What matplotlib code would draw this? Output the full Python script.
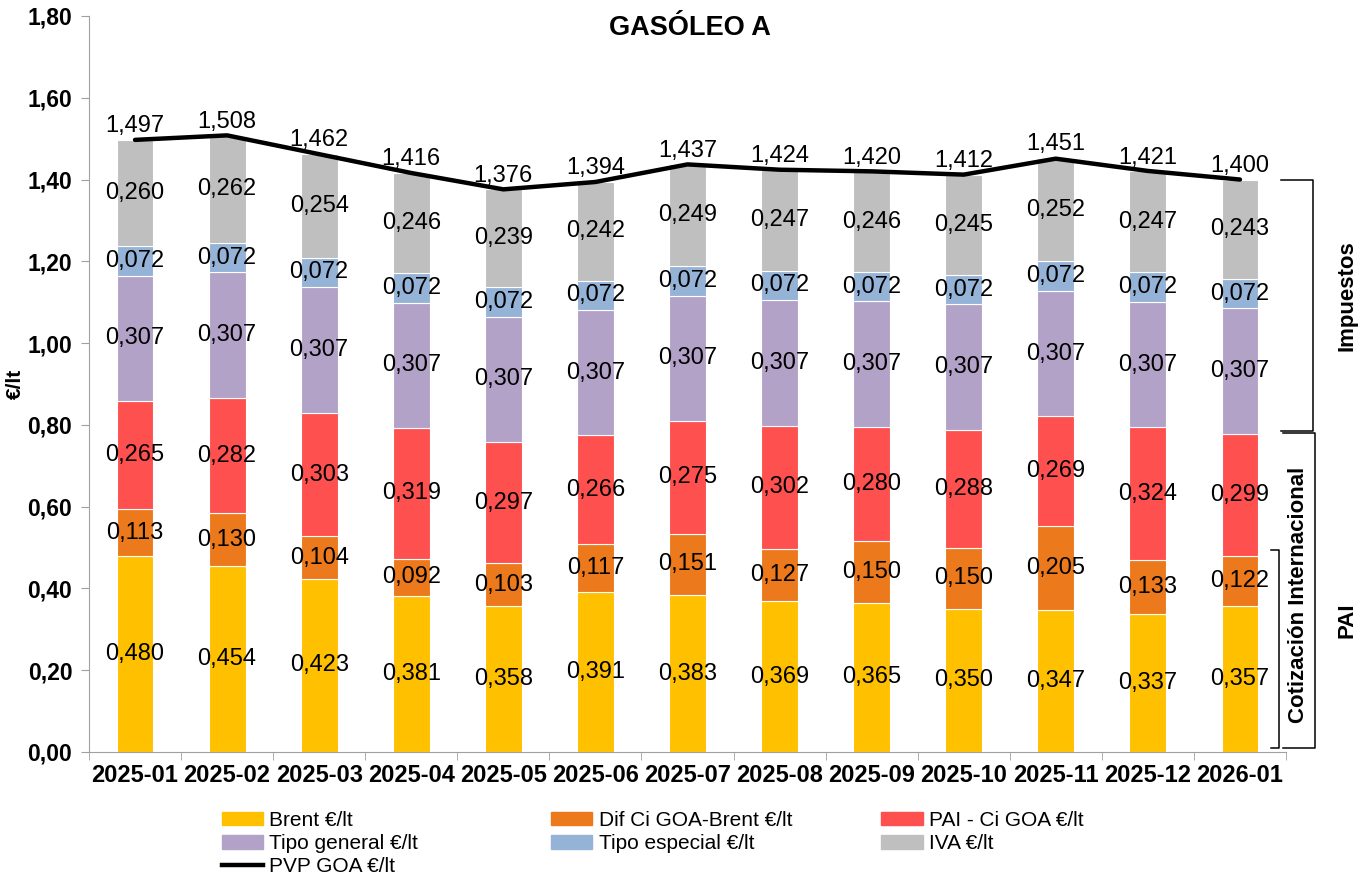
import numpy as np
import matplotlib.pyplot as plt
from matplotlib.patches import Patch
from matplotlib.lines import Line2D

plt.rcParams['font.family'] = ['Liberation Sans', 'DejaVu Sans']

meses = ['2025-01', '2025-02', '2025-03', '2025-04', '2025-05', '2025-06', '2025-07',
         '2025-08', '2025-09', '2025-10', '2025-11', '2025-12', '2026-01']
brent = [0.480, 0.454, 0.423, 0.381, 0.358, 0.391, 0.383, 0.369, 0.365, 0.350, 0.347, 0.337, 0.357]
dif_ci = [0.113, 0.130, 0.104, 0.092, 0.103, 0.117, 0.151, 0.127, 0.150, 0.150, 0.205, 0.133, 0.122]
pai_ci = [0.265, 0.282, 0.303, 0.319, 0.297, 0.266, 0.275, 0.302, 0.280, 0.288, 0.269, 0.324, 0.299]
tipo_general = [0.307] * 13
tipo_especial = [0.072] * 13
iva = [0.260, 0.262, 0.254, 0.246, 0.239, 0.242, 0.249, 0.247, 0.246, 0.245, 0.252, 0.247, 0.243]
pvp = [1.497, 1.508, 1.462, 1.416, 1.376, 1.394, 1.437, 1.424, 1.420, 1.412, 1.451, 1.421, 1.400]

series = [
    ('Brent €/lt', brent, '#FFC000'),
    ('Dif Ci GOA-Brent €/lt', dif_ci, '#EC7A1C'),
    ('PAI - Ci GOA €/lt', pai_ci, '#FF5050'),
    ('Tipo general €/lt', tipo_general, '#B3A2C7'),
    ('Tipo especial €/lt', tipo_especial, '#95B3D7'),
    ('IVA €/lt', iva, '#BFBFBF'),
]

def fmt(v, d=3):
    return f"{v:.{d}f}".replace('.', ',')

fig = plt.figure(figsize=(13.71, 8.83), dpi=100)
ax = fig.add_axes([0.0649, 0.1484, 0.8731, 0.8335])

x = np.arange(len(meses))
bottom = np.zeros(len(meses))
for name, vals, col in series:
    vals = np.array(vals)
    ax.bar(x, vals, 0.4, bottom=bottom, color=col, edgecolor='white', linewidth=0.8)
    for xi, b, v in zip(x, bottom, vals):
        ax.text(xi, b + v / 2, fmt(v), ha='center', va='center', fontsize=17)
    bottom += vals

ax.plot(x, pvp, color='black', linewidth=3.2, solid_capstyle='round')
for xi, v, top in zip(x, pvp, bottom):
    ax.annotate(fmt(v), (xi, top), xytext=(0, 2), textcoords='offset points',
                ha='center', va='bottom', fontsize=17)

ax.set_xlim(-0.5, 12.5)
ax.set_ylim(0, 1.8)
ax.set_yticks(np.arange(0, 1.81, 0.2))
ax.set_yticklabels([fmt(v, 2) for v in np.arange(0, 1.81, 0.2)], fontsize=16.5, fontweight='bold')
ax.set_xticks(x)
ax.set_xticklabels(meses, fontsize=17, fontweight='bold')
ax.set_xticks(np.arange(-0.5, 13, 1), minor=True)
ax.tick_params(axis='x', which='major', length=0, pad=9)
ax.tick_params(axis='x', which='minor', length=6, color='#A0A0A0')
ax.tick_params(axis='y', length=6, color='#A0A0A0', pad=6)
for s in ['top', 'right']:
    ax.spines[s].set_visible(False)
for s in ['left', 'bottom']:
    ax.spines[s].set_color('#A0A0A0')
ax.set_ylabel('€/lt', fontsize=15, fontweight='bold', labelpad=2)
fig.text(0.503, 0.968, 'GASÓLEO A', ha='center', va='center', fontsize=19.5, fontweight='bold')

# brackets on the right
def bracket(x0, x1, y0, y1):
    ax.plot([x0, x1, x1, x0], [y1, y1, y0, y0], color='black', lw=1.1, clip_on=False)

bracket(12.445, 12.79, 0.785, 1.398)
bracket(12.467, 12.82, 0.01, 0.78)
bracket(12.34, 12.42, 0.01, 0.494)
ax.text(13.16, 1.117, 'Impuestos', rotation=90, ha='center', va='center',
        fontsize=16, fontweight='bold', clip_on=False)
ax.text(12.64, 0.385, 'Cotización Internacional', rotation=90, ha='center', va='center',
        fontsize=16, fontweight='bold', clip_on=False)
ax.text(13.16, 0.323, 'PAI', rotation=90, ha='center', va='center',
        fontsize=16, fontweight='bold', clip_on=False)

# legend, one column at a time
cols = [
    [(0, 'patch'), (3, 'patch'), (None, 'line')],
    [(1, 'patch'), (4, 'patch')],
    [(2, 'patch'), (5, 'patch')],
]
xs = [0.154, 0.394, 0.635]
for cx, entries in zip(xs, cols):
    handles = []
    for idx, kind in entries:
        if kind == 'line':
            handles.append(Line2D([0], [0], color='black', lw=3.2, label='PVP GOA €/lt'))
        else:
            handles.append(Patch(color=series[idx][2], label=series[idx][0]))
    fig.legend(handles=handles, loc='upper left', bbox_to_anchor=(cx, 0.0935),
               frameon=False, fontsize=15, handlelength=2.0, handleheight=0.65,
               handletextpad=0.3, labelspacing=0.2, borderpad=0)

fig.savefig('out.png', dpi=100)
